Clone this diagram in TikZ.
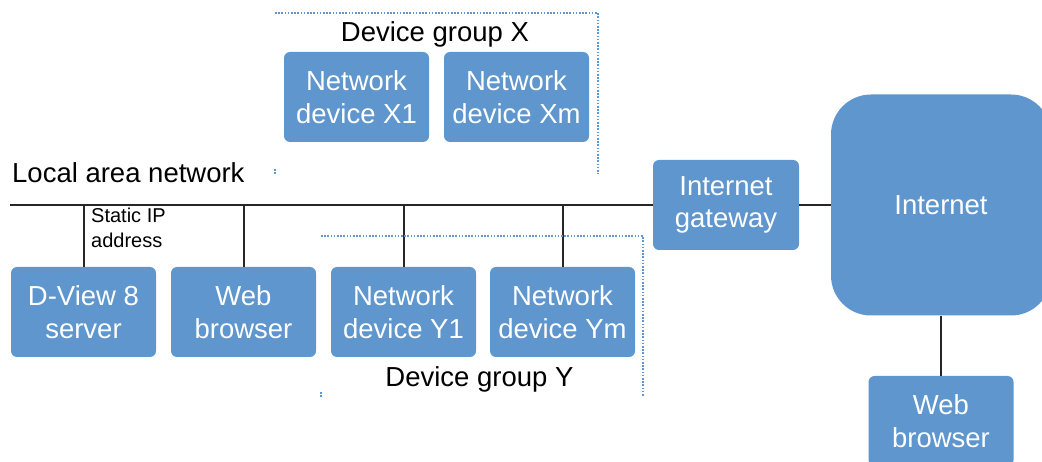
\documentclass[tikz,border=0pt]{standalone}
\usepackage{fontspec}
\setmainfont{Liberation Sans}
\definecolor{boxblue}{RGB}{94,150,205}
\definecolor{dotblue}{RGB}{96,150,208}
\tikzset{
  devbox/.style={fill=boxblue, rounded corners=6pt, minimum width=145pt, minimum height=90pt,
    inner sep=0pt, align=center, text=white, font=\fontsize{27.5}{32.5}\selectfont},
  wire/.style={line width=2pt, draw=black!85},
  groupline/.style={draw=dotblue, line width=1.6pt, dash pattern=on 1.6pt off 1.6pt},
  lbl/.style={inner sep=0pt, font=\fontsize{27.5}{32}\selectfont},
  smalllbl/.style={inner sep=0pt, align=left, font=\fontsize{20}{25}\selectfont},
}
\begin{document}
\begin{tikzpicture}[x=1pt, y=-1pt]
    \useasboundingbox (0, 0) rectangle (1042, 462);

      \node[devbox] (x1) at(356.5, 97){Network\\device X1};
      \node[devbox] (xm) at(516.5, 97){Network\\device Xm};

      \node[devbox] (dview) at(83.5, 312){D-View 8\\server};
      \node[devbox] (web) at(243.5, 312){Web\\browser};
      \node[devbox] (y1) at(403.5, 312){Network\\device Y1};
      \node[devbox] (ym) at(562.5, 312){Network\\device Ym};

      \node[devbox, minimum width=146pt] (gateway) at(726, 205){Internet\\gateway};
      \node[devbox, rounded corners=40pt, minimum width=220pt, minimum height=221pt] (internet) at(941, 205){Internet};
      \node[devbox] (web2) at(941, 421){Web\\browser};

      \node[lbl, anchor=base west] (lanlabel) at(12, 183){Local area network};
      \node[smalllbl, anchor=north west] (iplabel) at(91, 208){Static IP\\address};
      \node[lbl, anchor=base] (grouplx) at(435, 42){Device group X};
      \node[lbl, anchor=base] (groupy) at(479.5, 386){Device group Y};

      % local area network
      \coordinate (lan) at(10, 205);
      \draw[wire] (lan) to (gateway.west);
        \draw[wire] (dview.north) to (dview.north |- lan);
        \draw[wire] (web.north) to (web.north |- lan);
        \draw[wire] (y1.north) to (y1.north |- lan);
        \draw[wire] (ym.north) to (ym.north |- lan);
      \draw[wire] (gateway.east) to (internet.west);
      \draw[wire] (internet.south) to (web2.north);

      % device groups
      \coordinate (gxa) at(275, 13);
      \coordinate (gxb) at(598, 13);
      \coordinate (gxc) at(598, 174);
      \draw[groupline] (gxa) to (gxb) to (gxc);
      \draw[groupline] (275, 169) to (275, 174);

      \coordinate (gya) at(321, 236);
      \coordinate (gyb) at(643, 236);
      \coordinate (gyc) at(643, 397);
      \draw[groupline] (gya) to (gyb) to (gyc);
      \draw[groupline] (321, 392) to (321, 397);

    \end{tikzpicture}
\end{document}
